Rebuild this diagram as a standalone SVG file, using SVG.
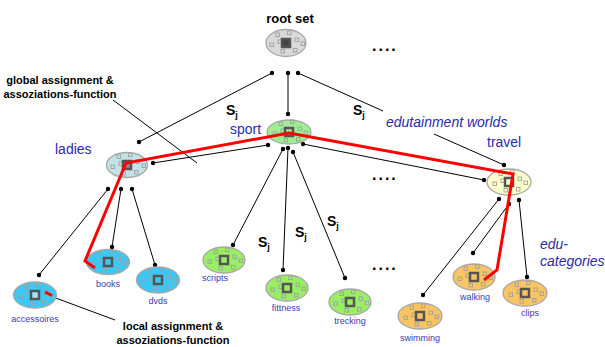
<svg xmlns="http://www.w3.org/2000/svg" xmlns:xlink="http://www.w3.org/1999/xlink" width="605" height="347" viewBox="0 0 605 347">
<style>
text{font-family:"Liberation Sans",Arial,sans-serif}
.b{font-weight:bold;fill:#000}
.big{font-size:13px;font-weight:bold}
.dots{font-size:16px;font-weight:bold;letter-spacing:2px}
.lab{font-size:14px;fill:#2a2aaa}
.it{font-size:14px;fill:#2a2aaa;font-style:italic}
.sm{font-size:9px;fill:#3a3ab0}
.sj{font-size:14px;font-weight:bold}
.nd{stroke:#a8a8a8;stroke-width:1.3}
.sq{fill:none;stroke:#a0a0a0;stroke-width:0.9}
.core{stroke:#555;stroke-width:2.5}
.c{stroke:#000;stroke-width:1;fill:none;marker-start:url(#d);marker-end:url(#d)}
.p{stroke:#000;stroke-width:1;fill:none}
.r{stroke:#ff0000;stroke-width:3;fill:none;stroke-linejoin:miter}
</style>
<defs>
<marker id="d" markerUnits="userSpaceOnUse" markerWidth="6" markerHeight="6" refX="3" refY="3" viewBox="0 0 6 6"><circle cx="3" cy="3" r="2.2" fill="#000"/></marker>
<g id="dots">
<rect class="sq" x="-10" y="-10" width="3.5" height="3.5"/>
<rect class="sq" x="1.5" y="-12" width="3.5" height="3.5"/>
<rect class="sq" x="-16" y="0" width="3.5" height="3.5"/>
<rect class="sq" x="-8" y="-3" width="3.5" height="3.5"/>
<rect class="sq" x="9" y="-5" width="3.5" height="3.5"/>
<rect class="sq" x="15" y="-1" width="3.5" height="3.5"/>
<rect class="sq" x="7.5" y="5.5" width="3.5" height="3.5"/>
<rect class="sq" x="-5" y="6.5" width="3.5" height="3.5"/>
</g>
</defs>

<g id="connectors">
<line class="c" x1="272" y1="73" x2="139" y2="142"/>
<line class="c" x1="288" y1="73" x2="288" y2="114"/>
<line class="p" x1="298" y1="73" x2="383" y2="111" marker-start="url(#d)"/>
<line class="p" x1="434" y1="134" x2="504" y2="165" marker-end="url(#d)"/>
<line class="p" x1="113" y1="100" x2="197" y2="163"/>
<line class="c" x1="153" y1="163" x2="268" y2="145"/>
<line class="c" x1="303" y1="144" x2="484" y2="180"/>
<line class="c" x1="108" y1="189" x2="39" y2="275"/>
<line class="c" x1="121" y1="189" x2="112" y2="247"/>
<line class="c" x1="132" y1="189" x2="155" y2="265"/>
<line class="c" x1="283" y1="149" x2="233" y2="245"/>
<line class="c" x1="288" y1="148" x2="283" y2="270"/>
<line class="c" x1="293" y1="152" x2="345" y2="278"/>
<line class="c" x1="499" y1="199" x2="423" y2="295"/>
<line class="c" x1="509" y1="204" x2="473" y2="253"/>
<line class="c" x1="519" y1="200" x2="527" y2="277"/>
<line class="p" x1="53" y1="297" x2="115" y2="320"/>
</g>

<g id="root">
<ellipse class="nd" cx="286" cy="43" rx="20" ry="13.5" fill="#d9d9d9"/>
<use xlink:href="#dots" x="286" y="43"/>
<rect class="core" x="282" y="39" width="8" height="8" fill="#444"/>
</g>
<g id="ladies">
<ellipse class="nd" cx="127" cy="165" rx="20.5" ry="12.5" fill="#c2e2e6"/>
<use xlink:href="#dots" x="127" y="165"/>
<rect class="core" x="123" y="161" width="8" height="8" fill="#888"/>
</g>
<g id="sport">
<ellipse class="nd" cx="289" cy="132" rx="22" ry="12" fill="#9cee90"/>
<use xlink:href="#dots" x="289" y="132"/>
<rect class="core" x="285" y="128" width="8" height="8" fill="#9cee90"/>
</g>
<g id="travel">
<ellipse class="nd" cx="509" cy="182" rx="22" ry="13" fill="#ffffcc"/>
<use xlink:href="#dots" x="509" y="182"/>
<rect class="core" x="505" y="178" width="8" height="8" fill="#ffffcc"/>
</g>
<g id="accessoires">
<ellipse class="nd" cx="35" cy="295" rx="21.5" ry="13" fill="#3cc8f6"/>
<use xlink:href="#dots" x="35" y="295"/>
<rect class="core" x="31" y="291" width="8" height="8" fill="#9ee6ff"/>
</g>
<g id="books">
<ellipse class="nd" cx="108" cy="262" rx="21.5" ry="12.5" fill="#3cc8f6"/>
<use xlink:href="#dots" x="108" y="262"/>
<rect class="core" x="104" y="258" width="8" height="8" fill="#3cc8f6"/>
</g>
<g id="dvds">
<ellipse class="nd" cx="158" cy="280" rx="21.5" ry="13" fill="#3cc8f6"/>
<use xlink:href="#dots" x="158" y="280"/>
<rect class="core" x="154" y="276" width="8" height="8" fill="#3cc8f6"/>
</g>
<g id="scripts">
<ellipse class="nd" cx="224" cy="260" rx="21" ry="13" fill="#99ee66"/>
<use xlink:href="#dots" x="224" y="260"/>
<rect class="core" x="220" y="256" width="8" height="8" fill="#99ee66"/>
</g>
<g id="fittness">
<ellipse class="nd" cx="287" cy="288" rx="21" ry="13" fill="#99ee66"/>
<use xlink:href="#dots" x="287" y="288"/>
<rect class="core" x="283" y="284" width="8" height="8" fill="#99ee66"/>
</g>
<g id="trecking">
<ellipse class="nd" cx="350" cy="302" rx="21" ry="13" fill="#99ee66"/>
<use xlink:href="#dots" x="350" y="302"/>
<rect class="core" x="346" y="298" width="8" height="8" fill="#99ee66"/>
</g>
<g id="walking">
<ellipse class="nd" cx="474" cy="277" rx="21" ry="13" fill="#fbc462"/>
<use xlink:href="#dots" x="474" y="277"/>
<rect class="core" x="470" y="273" width="8" height="8" fill="#fbc462"/>
</g>
<g id="clips">
<ellipse class="nd" cx="525" cy="293" rx="22" ry="13" fill="#fbc462"/>
<use xlink:href="#dots" x="525" y="293"/>
<rect class="core" x="521" y="289" width="8" height="8" fill="#fbc462"/>
</g>
<g id="swimming">
<ellipse class="nd" cx="420" cy="316" rx="22" ry="13" fill="#fbc462"/>
<use xlink:href="#dots" x="420" y="316"/>
<rect class="core" x="416" y="312" width="8" height="8" fill="#fbc462"/>
</g>

<g id="path">
<polyline class="r" points="95,268 85,261 126,163 289,133 513,174 497,270 484,280"/>
<line class="r" x1="45" y1="292" x2="52" y2="295.5"/>
</g>

<g id="labels">
<text class="big" x="290" y="23" text-anchor="middle">root set</text>
<text class="dots" x="372" y="51">....</text>
<text class="dots" x="372" y="180">....</text>
<text class="dots" x="372" y="270">....</text>
<text class="b" font-size="11" x="60" y="84" text-anchor="middle">global assignment &amp;</text>
<text class="b" font-size="11" x="60" y="98" text-anchor="middle">assoziations-function</text>
<text class="b" font-size="11" x="173" y="330" text-anchor="middle">local assignment &amp;</text>
<text class="b" font-size="11" x="173" y="344" text-anchor="middle">assoziations-function</text>
<text class="sj" x="226" y="115">S<tspan font-size="9" dy="3">j</tspan></text>
<text class="sj" x="353" y="115">S<tspan font-size="9" dy="3">j</tspan></text>
<text class="sj" x="258" y="247">S<tspan font-size="9" dy="3">j</tspan></text>
<text class="sj" x="295" y="237">S<tspan font-size="9" dy="3">j</tspan></text>
<text class="sj" x="327" y="226">S<tspan font-size="9" dy="3">j</tspan></text>
<text class="lab" x="55" y="154">ladies</text>
<text class="lab" x="230" y="134">sport</text>
<text class="lab" x="487" y="147">travel</text>
<text class="it" x="386" y="127">edutainment worlds</text>
<text class="it" x="540" y="249">edu-</text>
<text class="it" x="540" y="266">categories</text>
<text class="sm" x="35" y="322" text-anchor="middle">accessoires</text>
<text class="sm" x="108" y="287" text-anchor="middle">books</text>
<text class="sm" x="158" y="304" text-anchor="middle">dvds</text>
<text class="sm" x="215" y="281" text-anchor="middle">scripts</text>
<text class="sm" x="286" y="311" text-anchor="middle">fittness</text>
<text class="sm" x="350" y="324" text-anchor="middle">trecking</text>
<text class="sm" x="475" y="300" text-anchor="middle">walking</text>
<text class="sm" x="530" y="316" text-anchor="middle">clips</text>
<text class="sm" x="420" y="341" text-anchor="middle">swimming</text>
</g>
</svg>
